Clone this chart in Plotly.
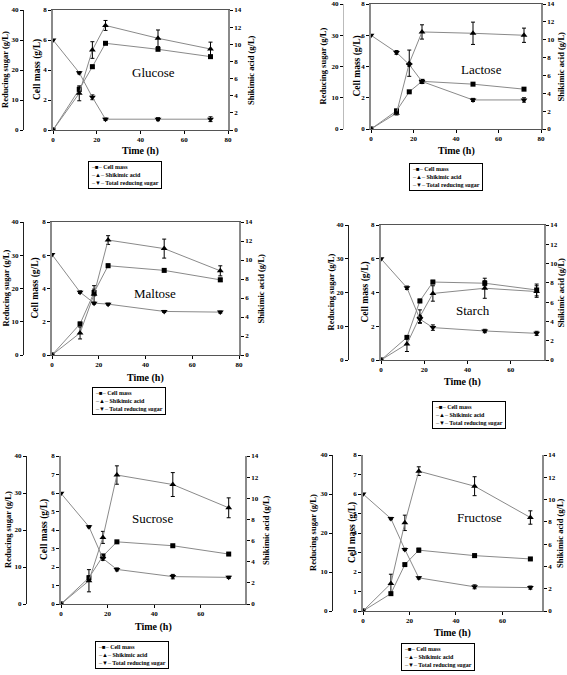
import plotly.graph_objects as go

W, H = 567, 675
time_h = [0, 12, 18, 24, 48, 72]

# ---- data (cell mass g/L, shikimic acid g/L, total reducing sugar g/L) ----
glucose_cell = [0, 2.71, 4.22, 5.78, 5.38, 4.89]
glucose_cell_err = [0, 0.15, 0.1, 0.08, 0.08, 0.08]
glucose_shik = [0, 4.28, 9.33, 12.2, 10.7, 9.45]
glucose_shik_err = [0, 0.87, 0.97, 0.58, 0.97, 0.8]
glucose_sugar = [30, 19.1, 10.9, 3.6, 3.6, 3.6]
glucose_sugar_err = [0, 0.4, 0.8, 0.4, 0.5, 0.8]

lactose_cell = [0, 1.16, 2.38, 3.05, 2.87, 2.55]
lactose_cell_err = [0, 0.1, 0.05, 0.1, 0.05, 0.05]
lactose_shik = [0, 1.77, 7.37, 10.87, 10.72, 10.5]
lactose_shik_err = [0, 0.2, 1.47, 0.8, 1.25, 0.8]
lactose_sugar = [30, 24.5, 20.6, 15.2, 9.3, 9.3]
lactose_sugar_err = [0, 0.6, 0.5, 0.6, 0.5, 0.7]

maltose_cell = [0, 1.87, 3.76, 5.37, 5.09, 4.52]
maltose_cell_err = [0, 0.1, 0.2, 0.1, 0.08, 0.1]
maltose_shik = [0, 2.32, 6.4, 12.1, 11.2, 8.86]
maltose_shik_err = [0, 0.63, 0.9, 0.46, 1.0, 0.53]
maltose_sugar = [30.2, 18.9, 15.6, 15.3, 13.1, 12.9]
maltose_sugar_err = [0, 0.4, 0.3, 0.3, 0.3, 0.3]

starch_cell = [0, 1.34, 3.5, 4.62, 4.55, 4.15]
starch_cell_err = [0, 0.05, 0.1, 0.1, 0.15, 0.35]
starch_shik = [0, 1.66, 4.5, 6.9, 7.44, 7.1]
starch_shik_err = [0, 0.78, 0.7, 0.8, 1.04, 0.6]
starch_sugar = [30, 21.4, 12.1, 9.6, 8.6, 7.9]
starch_sugar_err = [0, 0.5, 1.0, 0.8, 0.5, 0.6]

sucrose_cell = [0, 1.42, 2.59, 3.36, 3.15, 2.7]
sucrose_cell_err = [0, 0.1, 0.1, 0.05, 0.05, 0.05]
sucrose_shik = [0, 2.2, 6.3, 12.2, 11.3, 9.1]
sucrose_shik_err = [0, 1.05, 0.57, 0.87, 1.13, 0.94]
sucrose_sugar = [29.9, 20.9, 12.3, 9.35, 7.4, 7.2]
sucrose_sugar_err = [0, 0.3, 0.5, 0.4, 0.6, 0.3]

fructose_cell = [0, 0.89, 2.38, 3.12, 2.84, 2.67]
fructose_cell_err = [0, 0.05, 0.05, 0.1, 0.08, 0.05]
fructose_shik = [0, 2.46, 7.91, 12.55, 11.2, 8.39]
fructose_shik_err = [0, 0.84, 0.69, 0.39, 0.85, 0.6]
fructose_sugar = [30, 23.7, 15.8, 8.5, 6.2, 6.0]
fructose_sugar_err = [0, 0.3, 0.3, 0.3, 0.5, 0.4]

series_names = ["Cell mass", "Shikimic acid", "Total reducing sugar"]
sugar_names = ["Glucose", "Lactose", "Maltose", "Starch", "Sucrose", "Fructose"]

panel_data = [
    (glucose_cell, glucose_cell_err, glucose_shik, glucose_shik_err, glucose_sugar, glucose_sugar_err),
    (lactose_cell, lactose_cell_err, lactose_shik, lactose_shik_err, lactose_sugar, lactose_sugar_err),
    (maltose_cell, maltose_cell_err, maltose_shik, maltose_shik_err, maltose_sugar, maltose_sugar_err),
    (starch_cell, starch_cell_err, starch_shik, starch_shik_err, starch_sugar, starch_sugar_err),
    (sucrose_cell, sucrose_cell_err, sucrose_shik, sucrose_shik_err, sucrose_sugar, sucrose_sugar_err),
    (fructose_cell, fructose_cell_err, fructose_shik, fructose_shik_err, fructose_sugar, fructose_sugar_err),
]

# ---- layout (pixel geometry) ----
layouts = [
    dict(px=(53, 228), py=(10, 130), rx=23, xmax=80, cdt=2, top=True, lab=(153, 73), ty=151,
         leg=(88, 161), tx=(5, 37, 251), lcol="#222"),
    dict(px=(371, 541), py=(4, 129), rx=343, xmax=80, cdt=2, top=True, lab=(481, 69), ty=151,
         leg=(409, 163), tx=(322, 357, 560), lcol="#bbb"),
    dict(px=(52, 239), py=(222, 355), rx=23, xmax=80, cdt=2, top=True, lab=(155, 293), ty=378,
         leg=(92, 387), tx=(5, 35, 260), lcol="#222"),
    dict(px=(381, 544), py=(225, 360), rx=348, xmax=75.4, cdt=2, top=True, lab=(473, 310), ty=382,
         leg=(432, 401), tx=(330, 365, 560), lcol="#222"),
    dict(px=(61, 245), py=(456, 604), rx=26, xmax=79, cdt=1, top=False, lab=(152, 518), ty=627,
         leg=(95, 641), tx=(8, 44, 266), lcol="#222"),
    dict(px=(363, 542), py=(455, 611), rx=332, xmax=77, cdt=1, top=False, lab=(479, 517), ty=633,
         leg=(401, 643), tx=(313, 352, 560), lcol="#222"),
]

FONT = "Liberation Serif"
LINE = "#8a8a8a"
tickfont = dict(family=FONT, size=7, color="black", weight="bold")

fig = go.Figure()
annotations = []


def fx(px):
    return px / W


def fy(py):
    return 1 - py / H


for k, (lay, data, name) in enumerate(zip(layouts, panel_data, sugar_names), start=1):
    cell, cell_e, shik, shik_e, sug, sug_e = data
    xa = "x" if k == 1 else f"x{k}"
    ic, ish, isu = 3 * k - 2, 3 * k - 1, 3 * k
    yc = "y" if ic == 1 else f"y{ic}"
    ys, yr = f"y{ish}", f"y{isu}"

    common = dict(mode="lines+markers", line=dict(color=LINE, width=1), showlegend=False, xaxis=xa)
    eb = lambda arr: dict(type="data", array=arr, visible=True, color="black", thickness=1, width=2)
    fig.add_trace(go.Scatter(x=time_h, y=cell, yaxis=yc, name=series_names[0],
                             marker=dict(symbol="square", size=5, color="black"),
                             error_y=eb(cell_e), **common))
    fig.add_trace(go.Scatter(x=time_h, y=shik, yaxis=ys, name=series_names[1],
                             marker=dict(symbol="triangle-up", size=6, color="black"),
                             error_y=eb(shik_e), **common))
    fig.add_trace(go.Scatter(x=time_h, y=sug, yaxis=yr, name=series_names[2],
                             marker=dict(symbol="triangle-down", size=6, color="black"),
                             error_y=eb(sug_e), **common))

    x0, x1 = lay["px"]
    y0, y1 = lay["py"]
    xdom = [fx(x0), fx(x1)]
    ydom = [fy(y1), fy(y0)]
    xkey = "xaxis" if k == 1 else f"xaxis{k}"
    tickvals = [v for v in [0, 20, 40, 60, 80] if v <= lay["xmax"] + 0.01]
    fig.layout[xkey] = dict(domain=xdom, anchor=yc, range=[0, lay["xmax"]], tickvals=tickvals,
                            showline=True, linecolor="#555", linewidth=1,
                            mirror=lay["top"], ticks="outside", ticklen=3, tickcolor="black",
                            tickfont=tickfont, showgrid=False, zeroline=False, automargin=False)
    ykc = "yaxis" if ic == 1 else f"yaxis{ic}"
    fig.layout[ykc] = dict(domain=ydom, anchor=xa, range=[0, 8], dtick=lay["cdt"], side="left",
                           showline=True, linecolor=LINE, linewidth=2 if k == 4 else 1.5,
                           ticks="outside", ticklen=3, tickcolor="black", tickfont=tickfont,
                           showgrid=False, zeroline=False, automargin=False)
    fig.layout[f"yaxis{ish}"] = dict(domain=ydom, anchor=xa, overlaying=yc, side="right",
                                     range=[0, 14], dtick=2, showline=True, linecolor=LINE,
                                     linewidth=1.5, ticks="outside", ticklen=3,
                                     tickcolor="black", tickfont=tickfont, showgrid=False,
                                     zeroline=False, automargin=False)
    fig.layout[f"yaxis{isu}"] = dict(domain=ydom, anchor="free", overlaying=yc, side="left",
                                     position=fx(lay["rx"]), range=[0, 40], dtick=10,
                                     showline=True, linecolor=lay["lcol"], linewidth=1,
                                     ticks="outside", ticklen=3, tickcolor="black",
                                     tickfont=tickfont, showgrid=False, zeroline=False,
                                     automargin=False)

    ymid = fy((y0 + y1) / 2)
    rtx, ctx, stx = lay["tx"]
    for tx_, txt, fs in [(rtx, "Reducing sugar (g/L)", 8.5), (ctx, "Cell mass (g/L)", 9.5),
                         (stx, "Shikimic acid (g/L)", 8.5)]:
        annotations.append(dict(x=fx(tx_), y=ymid, xref="paper", yref="paper", text=txt,
                                textangle=-90, showarrow=False, xanchor="center",
                                yanchor="middle",
                                font=dict(family=FONT, size=fs, color="black", weight="bold")))
    annotations.append(dict(x=fx((x0 + x1) / 2), y=fy(lay["ty"]), xref="paper", yref="paper",
                            text="Time (h)", showarrow=False, xanchor="center", yanchor="middle",
                            font=dict(family=FONT, size=10, color="black", weight="bold")))
    annotations.append(dict(x=fx(lay["lab"][0]), y=fy(lay["lab"][1]), xref="paper",
                            yref="paper", text=name, showarrow=False, xanchor="center",
                            yanchor="middle", font=dict(family=FONT, size=13, color="black")))
    dash = '<span style="color:#666">–</span>'
    legend_txt = "<br>".join([
        f"{dash}■{dash} {series_names[0]}",
        f"{dash}▲{dash} {series_names[1]}",
        f"{dash}▼{dash} {series_names[2]}",
    ])
    annotations.append(dict(x=fx(lay["leg"][0]), y=fy(lay["leg"][1]), xref="paper",
                            yref="paper", text=legend_txt, showarrow=False, xanchor="left",
                            yanchor="top", align="left", bordercolor="black", borderwidth=1,
                            borderpad=2, bgcolor="white",
                            font=dict(family=FONT, size=6, color="black", weight="bold")))

fig.update_layout(width=W, height=H,
                  margin=dict(l=0, r=0, t=0, b=0, pad=0, autoexpand=False),
                  paper_bgcolor="white", plot_bgcolor="white", annotations=annotations,
                  showlegend=False)
fig.write_html("out.html", config={"displayModeBar": False},
               post_script="document.body.style.margin='0';document.body.style.overflow='hidden';")
